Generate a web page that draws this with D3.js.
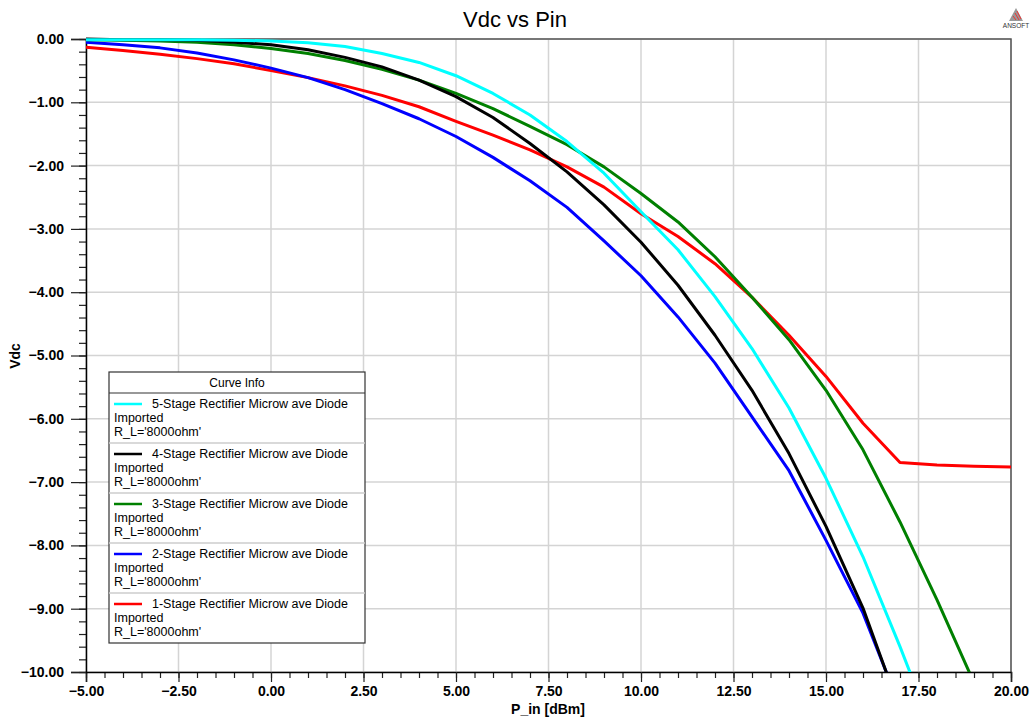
<!DOCTYPE html>
<html>
<head>
<meta charset="utf-8">
<script src="https://cdn.jsdelivr.net/npm/d3@7"></script>
<style>
  html, body { margin: 0; padding: 0; background: #fff; }
  svg { display: block; font-family: "Liberation Sans", Arial, sans-serif; }
</style>
</head>
<body>
<svg id="chart" width="1032" height="721"></svg>
<script>
// P_in sweep, dBm
const pin = [-5, -4, -3, -2, -1, 0, 1, 2, 3, 4, 5, 6, 7, 8, 9, 10,
  11, 12, 13, 14, 15, 16, 17, 18, 19, 20];

// Vdc per curve (values past -10 are clipped)
const vdc5 = [-0.01, -0.01, -0.01, -0.01, -0.02, -0.03, -0.06, -0.12, -0.23, -0.37,
  -0.58, -0.86, -1.20, -1.62, -2.12, -2.73, -3.33, -4.07, -4.89, -5.83,
  -6.94, -8.18, -9.60, -11.1];
const vdc4 = [0.00, -0.01, -0.01, -0.02, -0.05, -0.09, -0.17, -0.29, -0.44, -0.65,
  -0.91, -1.24, -1.65, -2.10, -2.62, -3.21, -3.89, -4.68, -5.55, -6.55,
  -7.70, -8.99, -10.6];
const vdc3 = [-0.01, -0.02, -0.03, -0.05, -0.09, -0.15, -0.23, -0.34, -0.48, -0.65,
  -0.86, -1.10, -1.38, -1.67, -2.02, -2.44, -2.89, -3.44, -4.08, -4.75,
  -5.55, -6.49, -7.63, -8.86, -10.17];
const vdc2 = [-0.05, -0.09, -0.14, -0.22, -0.33, -0.46, -0.61, -0.80, -1.02, -1.26,
  -1.54, -1.87, -2.24, -2.66, -3.19, -3.74, -4.39, -5.12, -5.97, -6.82,
  -7.92, -9.07, -10.55];
const vdc1 = [-0.13, -0.18, -0.24, -0.31, -0.39, -0.50, -0.61, -0.74, -0.89, -1.07,
  -1.30, -1.52, -1.75, -2.02, -2.34, -2.76, -3.12, -3.55, -4.08, -4.68,
  -5.33, -6.07, -6.69, -6.73, -6.75, -6.76];

const curveNames = [
  "5-Stage Rectifier Microw ave Diode",
  "4-Stage Rectifier Microw ave Diode",
  "3-Stage Rectifier Microw ave Diode",
  "2-Stage Rectifier Microw ave Diode",
  "1-Stage Rectifier Microw ave Diode",
];
const curveColors = ["#00ffff", "#000000", "#008000", "#0000ff", "#ff0000"];
const curveValues = [vdc5, vdc4, vdc3, vdc2, vdc1];

const xTicks = [-5, -2.5, 0, 2.5, 5, 7.5, 10, 12.5, 15, 17.5, 20];
const yTicks = [0, -1, -2, -3, -4, -5, -6, -7, -8, -9, -10];

const svg = d3.select("#chart");
const margin = {top: 39, right: 21, bottom: 49, left: 86};
const width = 1032, height = 721;

const x = d3.scaleLinear().domain([-5, 20])
  .range([margin.left, width - margin.right]);
const y = d3.scaleLinear().domain([-10, 0])
  .range([height - margin.bottom, margin.top]);

// grid
svg.append("g")
  .selectAll("line.vg").data(xTicks).join("line")
  .attr("x1", (d) => x(d)).attr("x2", (d) => x(d))
  .attr("y1", y(0)).attr("y2", y(-10))
  .attr("stroke", "#d4d4d4").attr("stroke-width", 1.5);
svg.append("g")
  .selectAll("line.hg").data(yTicks).join("line")
  .attr("x1", x(-5)).attr("x2", x(20))
  .attr("y1", (d) => y(d)).attr("y2", (d) => y(d))
  .attr("stroke", "#d4d4d4").attr("stroke-width", 1.5);

// frame top and right
svg.append("path")
  .attr("d", `M${x(-5)},${y(0)}H${x(20)}V${y(-10)}`)
  .attr("fill", "none").attr("stroke", "#555").attr("stroke-width", 1.5);

// minor ticks
const xMinor = d3.range(-5, 20.01, 0.5);
const yMinor = d3.range(-10, 0.01, 0.2);

const xAxis = svg.append("g")
  .attr("transform", `translate(0,${y(-10)})`);
xAxis.call(d3.axisBottom(x).tickValues(xMinor).tickSize(6).tickFormat(""))
  .call((g) => g.select(".domain").remove());
xAxis.append("g")
  .call(d3.axisBottom(x).tickValues(xTicks).tickSize(10).tickPadding(4)
    .tickFormat(d3.format(".2f")))
  .call((g) => g.select(".domain").attr("stroke-width", 1.5))
  .call((g) => g.selectAll("text")
    .attr("font-size", 14).attr("font-weight", "bold").attr("fill", "#000"));

const yAxis = svg.append("g")
  .attr("transform", `translate(${x(-5)},0)`);
yAxis.call(d3.axisLeft(y).tickValues(yMinor).tickSize(7).tickFormat(""))
  .call((g) => g.select(".domain").remove());
yAxis.append("g")
  .call(d3.axisLeft(y).tickValues(yTicks).tickSize(15).tickPadding(7)
    .tickFormat(d3.format(".2f")))
  .call((g) => g.select(".domain").attr("stroke-width", 1.5))
  .call((g) => g.selectAll("text")
    .attr("font-size", 14).attr("font-weight", "bold").attr("fill", "#000"));
svg.selectAll(".tick line").attr("stroke", "#222").attr("stroke-width", 1.2);

// curves
svg.append("clipPath").attr("id", "plotclip")
  .append("rect")
  .attr("x", x(-5)).attr("y", y(0) - 2)
  .attr("width", x(20) - x(-5)).attr("height", y(-10) - y(0) + 2);

const line = d3.line()
  .x((d, i) => x(pin[i]))
  .y((d) => y(d));

const curves = svg.append("g").attr("clip-path", "url(#plotclip)");
for (let i = curveValues.length - 1; i >= 0; i--) {
  curves.append("path")
    .datum(curveValues[i])
    .attr("fill", "none")
    .attr("stroke", curveColors[i])
    .attr("stroke-width", 3)
    .attr("stroke-linejoin", "round")
    .attr("d", line);
}

// titles
svg.append("text")
  .attr("x", 515).attr("y", 27)
  .attr("text-anchor", "middle")
  .attr("font-size", 22)
  .text("Vdc vs Pin");
svg.append("text")
  .attr("x", 548).attr("y", 714)
  .attr("text-anchor", "middle")
  .attr("font-size", 14).attr("font-weight", "bold")
  .text("P_in [dBm]");
svg.append("text")
  .attr("transform", "translate(20,356) rotate(-90)")
  .attr("text-anchor", "middle")
  .attr("font-size", 14).attr("font-weight", "bold")
  .text("Vdc");

// legend
const lg = svg.append("g").attr("transform", "translate(109,372)");
const lgW = 256, headH = 21, rowH = 50;
lg.append("rect")
  .attr("width", lgW).attr("height", headH + rowH * curveNames.length)
  .attr("fill", "#fff").attr("stroke", "#333").attr("stroke-width", 1.2);
lg.append("text")
  .attr("x", lgW / 2).attr("y", 15)
  .attr("text-anchor", "middle").attr("font-size", 12)
  .text("Curve Info");
curveNames.forEach((name, i) => {
  const row = lg.append("g").attr("transform", `translate(0,${headH + i * rowH})`);
  row.append("line")
    .attr("x1", 0).attr("x2", lgW)
    .attr("stroke", i === 0 ? "#333" : "#ccc").attr("stroke-width", i === 0 ? 1.2 : 1.5);
  row.append("line")
    .attr("x1", 5).attr("x2", 33).attr("y1", 11).attr("y2", 11)
    .attr("stroke", curveColors[i]).attr("stroke-width", 2.5);
  row.append("text").attr("x", 43).attr("y", 15)
    .attr("font-size", 12.5).text(name);
  row.append("text").attr("x", 5).attr("y", 29)
    .attr("font-size", 12.5).text("Imported");
  row.append("text").attr("x", 5).attr("y", 43)
    .attr("font-size", 12.5).text("R_L='8000ohm'");
});

// ansoft mark
const logo = svg.append("g").attr("transform", "translate(1016,8)");
logo.append("path").attr("d", "M0,0 L7,13 L-7,13 Z").attr("fill", "#999");
logo.append("path").attr("d", "M-1,5 L3,12 M-3,8 L0,12 M1,3 L5,11")
  .attr("stroke", "#e33").attr("stroke-width", 1);
logo.append("text").attr("x", 0).attr("y", 20)
  .attr("text-anchor", "middle").attr("font-size", 6.5).attr("fill", "#333")
  .text("ANSOFT");
</script>
</body>
</html>
